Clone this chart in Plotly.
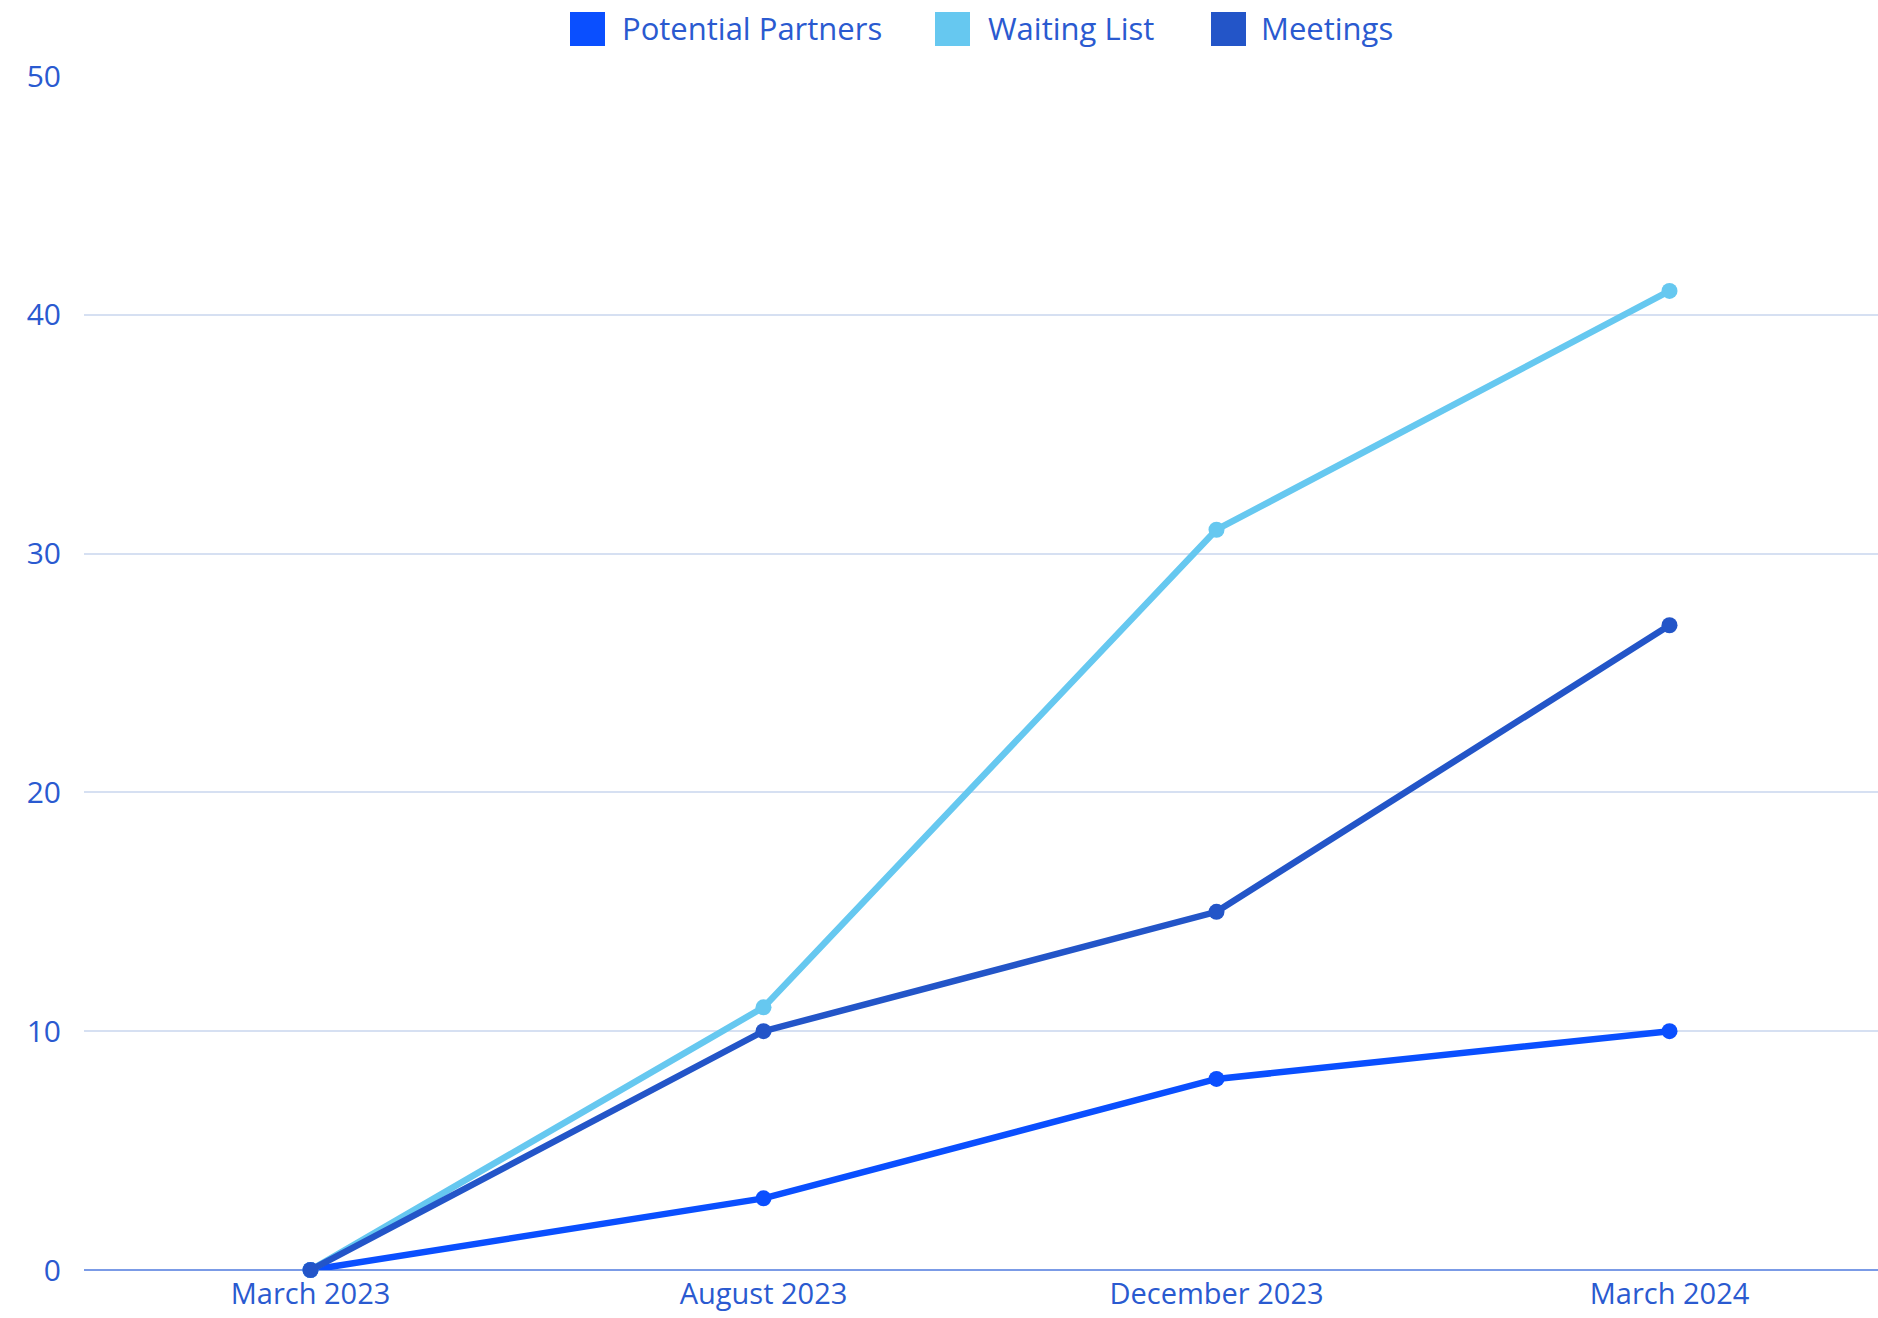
import plotly.graph_objects as go

categories = ["March 2023", "August 2023", "December 2023", "March 2024"]
series_names = ["Potential Partners", "Waiting List", "Meetings"]
potential_partners = [0, 3, 8, 10]
waiting_list = [0, 11, 31, 41]
meetings = [0, 10, 15, 27]
y_ticks = [0, 10, 20, 30, 40, 50]

values = [potential_partners, waiting_list, meetings]
colors = ["#0a4fff", "#66c8f0", "#2355c8"]
text_color = "#2a5ad0"
FONT = "Open Sans"

OFF = 0      # body margin removed in post_script
EXTRA = 20   # let the plot area run past the right window edge
W, H = 1878 - OFF + EXTRA, 1318 - OFF
ML, MR, MT, MB = 84 - OFF, 0, 76 - OFF, 48
PW, PH = W - ML - MR, H - MT - MB
CAT_SPACING = 453.0  # px per category
x_max = -0.5 + PW / CAT_SPACING

fig = go.Figure()
for name, vals, col in zip(series_names, values, colors):
    fig.add_trace(go.Scatter(
        x=categories, y=vals, name=name, mode="lines+markers",
        line=dict(color=col, width=6.5),
        marker=dict(color=col, size=16),
        cliponaxis=False, showlegend=False,
    ))

# page pixel -> paper coords
def px_x(p):
    return (p - OFF - ML) / PW

def px_y(p):
    return (H - MB - (p - OFF)) / PH

# manual legend (large square swatches)
legend_sq_x = [570, 935, 1211]
legend_txt_x = [620, 986, 1259]
shapes = []
annotations = []
for name, col, sx, tx in zip(series_names, colors, legend_sq_x, legend_txt_x):
    shapes.append(dict(type="rect", xref="paper", yref="paper",
                       x0=px_x(sx), x1=px_x(sx + 35), y0=px_y(46), y1=px_y(12),
                       fillcolor=col, line=dict(width=0), layer="above"))
    annotations.append(dict(xref="paper", yref="paper", x=px_x(tx), y=px_y(28),
                            xanchor="left", yanchor="middle", text=name,
                            showarrow=False,
                            font=dict(family=FONT, size=31, color=text_color)))

fig.update_layout(
    width=W, height=H,
    margin=dict(l=ML, r=MR, t=MT, b=MB, pad=0),
    paper_bgcolor="white", plot_bgcolor="white",
    font=dict(family=FONT, size=29, color=text_color),
    shapes=shapes, annotations=annotations,
    showlegend=False,
)
fig.update_xaxes(
    type="category", range=[-0.5, x_max], showgrid=False, showline=False,
    zeroline=False, ticks="", ticklabelstandoff=4,
    tickfont=dict(family=FONT, size=29, color=text_color),
)
fig.update_yaxes(
    range=[0, 50], tickvals=y_ticks, showgrid=True, gridcolor="#d6e0f2",
    gridwidth=1.5, zeroline=True, zerolinecolor="#7b9be6", zerolinewidth=1.5,
    showline=False, ticks="", ticklabelstandoff=22,
    tickfont=dict(family=FONT, size=30, color=text_color),
)

fig.write_html(
    "out.html",
    config={"displayModeBar": False},
    post_script="document.documentElement.style.overflow='hidden';"
                "document.body.style.overflow='hidden';"
                "document.body.style.margin='0';",
)
